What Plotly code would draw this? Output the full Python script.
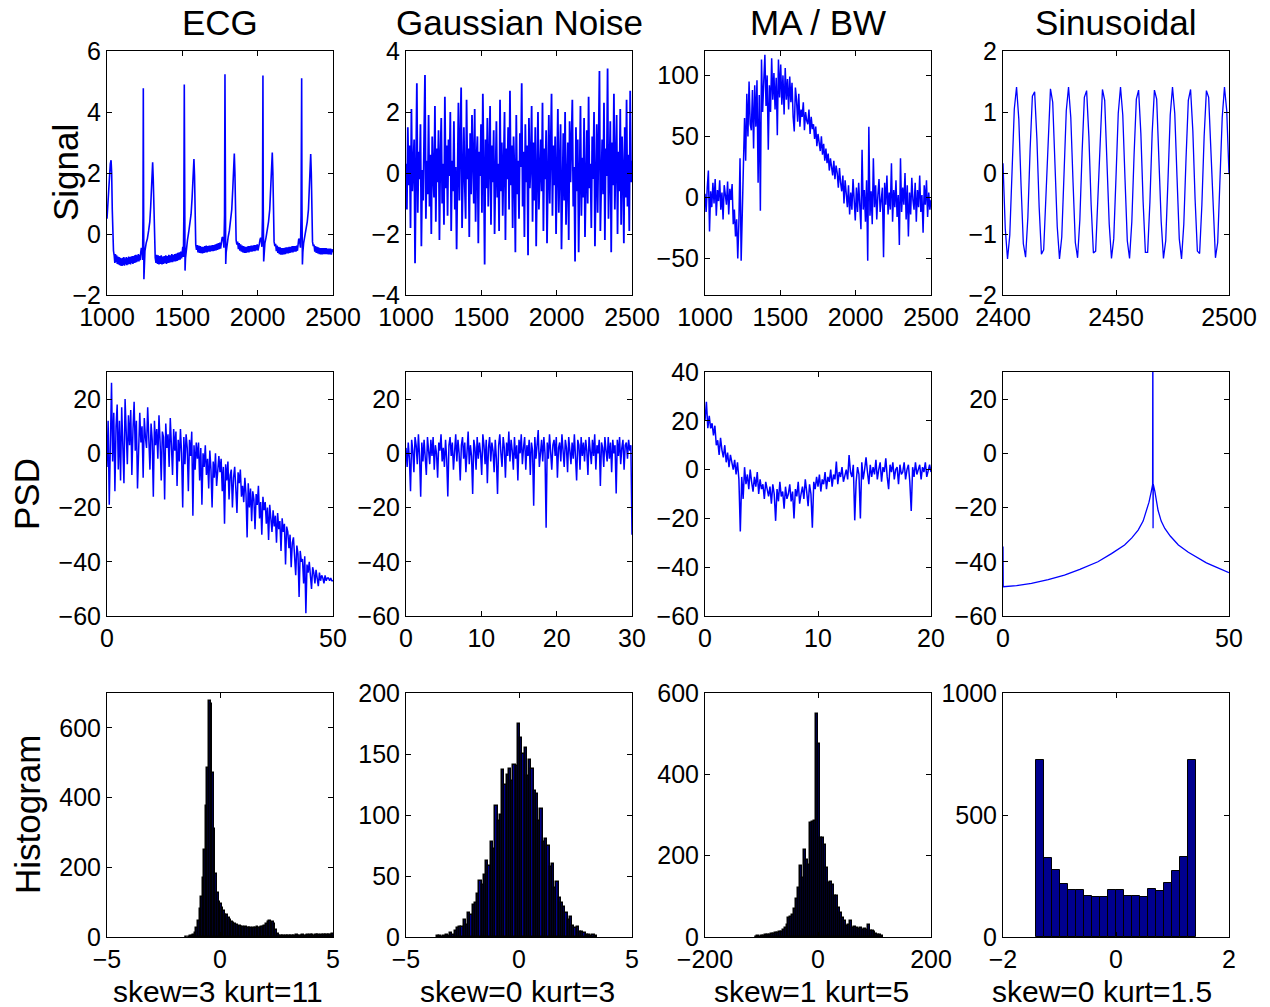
import plotly.graph_objects as go
from plotly.subplots import make_subplots

# the page puts the figure 8px in from the top-left corner of the window
OFF = 8
W, H = 1270 - OFF, 1007 - OFF
BLUE = 'rgb(0,0,255)'
NAVY = 'rgb(0,0,143)'
FONT = 'Liberation Sans, Arial, sans-serif'

col_titles = ['ECG', 'Gaussian Noise', 'MA / BW', 'Sinusoidal']
row_titles = ['Signal', 'PSD', 'Histogram']
stat_labels = ['skew=3 kurt=11', 'skew=0 kurt=3', 'skew=1 kurt=5', 'skew=0 kurt=1.5']

# ---------------- row 1: time signals ----------------
# ECG (sample index, value)
ecg_points = [
    (1000, 0.5), (1008, 1.2), (1015, 1.9), (1022, 2.3), (1027, 2.42), (1031, 2.0), (1035, 0.8), (1039, -0.1),
    (1043, -0.55), (1048, -0.72), (1052, -0.95), (1056, -0.66), (1060, -0.92), (1064, -0.7), (1068, -0.98),
    (1072, -0.74), (1076, -1.0), (1080, -0.76), (1084, -1.02), (1088, -0.78), (1092, -1.04), (1096, -0.8),
    (1100, -1.05), (1104, -0.78), (1108, -1.02), (1112, -0.76), (1116, -1.04), (1120, -0.8), (1124, -1.0),
    (1128, -0.76), (1132, -1.02), (1136, -0.78), (1140, -1.0), (1144, -0.74), (1148, -0.98), (1152, -0.76),
    (1156, -1.0), (1160, -0.74), (1164, -0.96), (1168, -0.72), (1172, -0.98), (1176, -0.72), (1180, -0.95),
    (1184, -0.7), (1188, -0.94), (1192, -0.68), (1196, -0.92), (1200, -0.7), (1204, -0.9), (1208, -0.66),
    (1212, -0.9), (1216, -0.68), (1220, -0.86), (1224, -0.6), (1228, -0.45), (1232, -0.5), (1236, -0.85),
    (1239, 0.6), (1241, 4.78), (1243, 1.0), (1245, -1.48), (1248, -1.0), (1252, -0.55), (1260, -0.3),
    (1268, -0.15), (1276, 0.1), (1284, 0.4), (1290, 0.9), (1296, 1.7), (1303, 2.35), (1307, 1.8), (1311, 0.5),
    (1315, -0.5), (1320, -0.78),
    (1325, -0.95), (1330, -0.68), (1335, -0.98), (1340, -0.7), (1345, -1.0), (1350, -0.72), (1355, -0.98),
    (1360, -0.7), (1365, -1.0), (1370, -0.74), (1375, -0.98), (1380, -0.72), (1385, -0.96), (1390, -0.7),
    (1395, -0.98), (1400, -0.72), (1405, -0.95), (1410, -0.68), (1415, -0.94), (1420, -0.7), (1425, -0.92),
    (1430, -0.66), (1435, -0.92), (1440, -0.68), (1445, -0.9), (1450, -0.66), (1455, -0.9), (1460, -0.64),
    (1465, -0.88), (1470, -0.62), (1475, -0.86), (1480, -0.6), (1485, -0.84), (1490, -0.58), (1495, -0.8),
    (1499, -0.45), (1503, -0.42), (1507, -0.75), (1510, 0.6), (1513, 4.9), (1515, 1.0), (1518, -1.2),
    (1521, -0.8), (1526, -0.45), (1534, -0.2), (1542, 0.05), (1550, 0.3), (1558, 0.65), (1565, 1.2),
    (1571, 1.9), (1577, 2.46), (1581, 1.9), (1585, 0.5), (1589, -0.35), (1594, -0.52),
    (1599, -0.36), (1604, -0.6), (1609, -0.38), (1614, -0.62), (1619, -0.4), (1624, -0.63), (1629, -0.42),
    (1634, -0.64), (1639, -0.42), (1644, -0.62), (1649, -0.4), (1654, -0.6), (1659, -0.38), (1664, -0.6),
    (1669, -0.4), (1674, -0.58), (1679, -0.38), (1684, -0.58), (1689, -0.38), (1694, -0.56), (1699, -0.36),
    (1704, -0.56), (1709, -0.36), (1714, -0.55), (1719, -0.34), (1724, -0.54), (1729, -0.32), (1734, -0.52),
    (1739, -0.3), (1744, -0.5), (1749, -0.28), (1754, -0.48), (1759, -0.25), (1764, -0.12), (1768, -0.1),
    (1772, -0.2), (1776, -0.45), (1780, 0.6), (1783, 5.24), (1785, 1.0), (1788, -0.98), (1791, -0.6),
    (1796, -0.3), (1804, -0.1), (1812, 0.1), (1820, 0.4), (1828, 0.8), (1835, 1.5), (1840, 2.2), (1845, 2.64),
    (1849, 2.0), (1853, 0.6), (1857, -0.2), (1862, -0.35),
    (1867, -0.25), (1872, -0.5), (1877, -0.3), (1882, -0.55), (1887, -0.34), (1892, -0.58), (1897, -0.38),
    (1902, -0.6), (1907, -0.4), (1912, -0.62), (1917, -0.42), (1922, -0.62), (1927, -0.42), (1932, -0.6),
    (1937, -0.4), (1942, -0.6), (1947, -0.4), (1952, -0.58), (1957, -0.38), (1962, -0.58), (1967, -0.38),
    (1972, -0.56), (1977, -0.36), (1982, -0.56), (1987, -0.36), (1992, -0.54), (1997, -0.34), (2002, -0.54),
    (2007, -0.34), (2012, -0.3), (2016, -0.18), (2020, -0.12), (2024, -0.22), (2028, -0.42), (2032, 0.6),
    (2035, 5.2), (2037, 1.0), (2040, -0.9), (2043, -0.55), (2048, -0.3), (2056, -0.1), (2064, 0.1),
    (2072, 0.4), (2080, 0.8), (2087, 1.5), (2092, 2.2), (2097, 2.67), (2101, 2.0), (2105, 0.6),
    (2109, -0.25), (2114, -0.4),
    (2119, -0.32), (2124, -0.56), (2129, -0.38), (2134, -0.62), (2139, -0.42), (2144, -0.66), (2149, -0.44),
    (2154, -0.68), (2159, -0.46), (2164, -0.68), (2169, -0.46), (2174, -0.67), (2179, -0.45), (2184, -0.66),
    (2189, -0.44), (2194, -0.64), (2199, -0.44), (2204, -0.64), (2209, -0.42), (2214, -0.62), (2219, -0.42),
    (2224, -0.6), (2229, -0.4), (2234, -0.6), (2239, -0.4), (2244, -0.58), (2249, -0.4), (2254, -0.58),
    (2259, -0.38), (2264, -0.55), (2268, -0.3), (2272, -0.18), (2276, -0.15), (2280, -0.3), (2284, -0.45),
    (2288, 0.6), (2292, 5.11), (2294, 1.0), (2297, -1.0), (2300, -0.6), (2305, -0.3), (2313, -0.1),
    (2321, 0.1), (2329, 0.4), (2337, 0.8), (2343, 1.5), (2348, 2.2), (2352, 2.62), (2356, 2.0), (2360, 0.6),
    (2364, -0.25), (2369, -0.4),
    (2374, -0.35), (2379, -0.58), (2384, -0.4), (2389, -0.62), (2394, -0.42), (2399, -0.64), (2404, -0.44),
    (2409, -0.66), (2414, -0.46), (2419, -0.67), (2424, -0.46), (2429, -0.67), (2434, -0.46), (2439, -0.66),
    (2444, -0.46), (2449, -0.66), (2454, -0.46), (2459, -0.66), (2464, -0.48), (2469, -0.67), (2474, -0.48),
    (2479, -0.67), (2484, -0.48), (2489, -0.68), (2494, -0.5), (2500, -0.6),
]

# gaussian noise, one value every 6 samples from 1000
noise_sig = [
    0.3, -1.2, 1.5, -0.4, 0.9, -1.8, 2.1, -0.6, 0.2, 1.1, -2.96, 0.5, 2.94, -1.3, 0.7, -0.2, 1.6, -2.4, 0.1, -0.9, 1.3, 3.21, -1.5, 0.4, -0.7,
    1.9, -1.1, 0.6, -2.0, 1.2, 0.0, -0.8, 2.2, -1.6, 0.8, -0.3, 1.4, -2.2, 0.5, 1.8, -1.0, 0.3, -1.7, 2.5, -0.5, 0.9, -1.4, 1.1, -0.1, 2.0,
    -1.9, 0.4, -0.6, 1.7, -1.2, 0.2, -2.5, 1.0, 2.3, -0.9, 0.6, 2.8, -1.8, 0.1, 1.5, -0.4, -1.5, 2.4, -0.2, 0.8, -2.1, 1.3, -0.7, 1.9, 0.3,
    -1.0, 2.1, -1.6, 0.5, 1.2, -2.3, 0.7, -0.1, 1.6, -1.3, 2.6, 0.2, -3.0, 1.1, -0.5, 1.8, -1.1, 0.4, 2.2, -1.7, 0.9, -0.3, 1.4, -2.0, 0.6,
    1.7, -0.8, 0.3, -1.9, 2.4, -0.6, 1.0, -1.4, 0.5, 2.0, -2.2, 0.8, -0.2, 1.5, -1.2, 2.7, -0.4, 0.9, -1.8, 1.2, 0.1, -2.6, 1.9, -0.7, 0.4,
    -1.5, 1.3, 0.2, 2.94, -1.1, 0.7, -2.1, 1.6, -0.3, 0.9, -2.7, 1.8, -0.5, 0.3, 2.2, -1.6, 1.0, -0.9, 1.5, -2.4, 0.6, 2.0, -1.2, 0.2, 1.1,
    -0.6, 2.3, -1.9, 0.8, -0.2, 1.4, -2.3, 0.5, 1.9, -1.0, 0.3, 2.6, -1.4, 0.9, -0.4, 1.2, -2.0, 0.7, 2.1, -1.3, 0.0, 1.6, -2.5, 0.6, 1.3,
    -0.9, 2.0, -1.7, 0.4, 1.0, -2.2, 1.7, -0.3, 0.8, 2.4, -1.1, 0.2, -2.9, 1.5, -0.6, 1.1, -2.6, 0.9, 2.2, -1.4, 0.5, -0.8, 1.8, -2.1, 0.7,
    1.4, -1.0, 2.5, -0.5, 0.3, -1.8, 1.2, -0.2, 2.0, -2.4, 0.6, 1.6, -1.3, 0.9, 3.34, -1.9, 0.4, 1.1, -0.7, 2.3, -2.2, 0.8, -0.1, 3.43, -1.5,
    0.5, 1.7, -2.6, 1.0, -0.4, 2.6, -1.2, 0.3, 1.9, -2.0, 0.7, -0.6, 2.1, -1.7, 1.2, 0.1, -2.3, 1.5, -0.8, 2.4, -1.1, 0.6, -1.9, 2.7, -0.3, 0.4,
]

# motion artefact / baseline wander, one value every 7.5 samples from 1000
ma_sig = [
    3, -12, 8, 22, -28, 5, -8, 12, -5, 15, -15, 6, -3, 14, -10, 4, -18, 10, 2, -6, 13, -14, 7, -2, 11,
    -22, -10, -32, -18, -50, -20, 32, -52, -10,
    20, 65, 30, 85, 50, 95, 60,
    55, 88, 40, 92, 58, 96, 12, 84, -11, 113, 70, 95, 117, 75, 100, 39, 92, 70, 114, 80,
    102, 72, 98, 51, 113, 82, 109, 76, 100, 68, 106, 80, 97, 72, 99, 78, 94, 66, 54, 90,
    80, 62, 85, 58, 72, 66, 78, 55, 70, 63, 60, 72, 52, 66, 56, 60, 48, 58, 42, 52,
    45, 38, 50, 35, 44, 30, 40, 28, 36, 22, 32, 25, 18, 30, 15, 26, 20, 8, 24, 12, 5, 18, -5, 14, 2,
    -8, 10, -14, 4, -10, 15, -6, -19, 8, -12, 12, -4, -26, 39, -10, 6, -20, 14, -52, 58,
    -15, 5, -22, 32, -8, 10, -18, 2, 15, -12, -4, 8, -49, 12, -6, 18, -14, 4, -10, 28,
    -20, 6, -8, 14, -16, 2, -39, 32, -12, 8, -6, 20, -18, 10, -32, 4, -14, 16, -2, -10,
    12, -20, 6, -8, 18, -12, 2, -29, 10, -6, 14, -16, 4, -10, -2,
]

# sinusoid, one value per sample from 2400
sine_sig = [
    0.16, -0.91, -1.41, -1.02, 0.02, 1.05, 1.41, 0.88, -0.21, -1.16, -1.38, -0.73, 0.39, 1.26, 1.33, 0.56,
    -0.56, -1.33, -1.26, -0.39, 0.73, 1.38, 1.16, 0.21, -0.88, -1.41, -1.05, -0.02, 1.02, 1.41, 0.91, -0.16,
    -1.14, -1.39, -0.77, 0.34, 1.24, 1.35, 0.60, -0.52, -1.31, -1.28, -0.43, 0.69, 1.37, 1.19, 0.25, -0.84,
    -1.40, -1.08, -0.07, 0.98, 1.41, 0.95, -0.11, -1.11, -1.40, -0.80, 0.30, 1.21, 1.36, 0.65, -0.47, -1.30,
    -1.30, -0.48, 0.65, 1.36, 1.21, 0.30, -0.80, -1.40, -1.11, -0.12, 0.95, 1.41, 0.98, -0.07, -1.08, -1.41,
    -0.84, 0.25, 1.19, 1.37, 0.69, -0.43, -1.28, -1.32, -0.52, 0.60, 1.35, 1.24, 0.35, -0.76, -1.39, -1.14,
    -0.16, 0.91, 1.41, 1.02, -0.02,
]

# ---------------- row 2: power spectra (dB) ----------------
psd_ecg = [
    -5, 12, -19, 8, 26, -3, 15, -14, 10, 18, -6, 12, -10, 17, 2, -11, 20, 5, -4, 14,
    3, 16, -8, 9, 19, 1, 12, -13, 7, 15, 4, 10, -9, 13, 6, 2, 17, 8, -6, 11,
    5, -16, 12, 3, 9, -2, 14, 4, -10, 8, 6, -17, 11, 2, 7, -5, 13, 3, -8, 9,
    1, 8, -12, 5, -3, 9, 0, -20, 6, -4, 7, 2, -14, 5, -1, 8, -23, 3, -6, 4,
    -2, 4, -10, 2, -19, 0, -5, 3, -8, -2, -13, 1, -6, -20, -3, -9, 0, -12, -5, -1,
    -7, -2, -14, -5, -26, -4, -10, -3, -17, -8, -6, -20, -9, -5, -13, -22, -7, -11, -6, -16,
    -12, -18, -9, -15, -31, -11, -20, -13, -25, -14, -17, -28, -15, -19, -12, -24, -18, -30, -16, -21,
    -18, -26, -20, -32, -19, -24, -29, -21, -27, -23, -33, -22, -28, -25, -36, -24, -29, -26, -41, -27,
    -29, -35, -30, -42, -33, -31, -38, -45, -34, -37, -53, -36, -40, -39, -48, -38, -59, -41, -44, -40,
    -45, -50, -42, -44, -48, -43, -46, -49, -44, -47, -45, -46, -48, -45, -47, -46, -46, -47, -46, -47, -47,
]

psd_noise = [
    2, -5, 4, -2, -14, 5, 1, -7, 6, 3, -4, 7, -1, -16, 4, -3, 5, 0, -8, 6,
    2, -4, 5, -1, 6, -6, 3, 0, -9, 4, 1, 7, -3, 2, -5, 5, -2, -15.9, 3, 6,
    -1, 4, -6, 2, 7, -3, 5, 0, -10, 3, 6, -2, 4, -7, 1, 8, -4, 3, -1, -15,
    5, 2, -6, 6, -2, 4, 0, -8, 7, 3, -4, 5, -11, 2, 6, -3, 4, 1, -7, 5,
    -2, -15, 3, 7, 0, -5, 6, 2, -9, 4, -1, 8, -3, 5, 1, -6, 6, -2, 3, -10,
    5, 0, 7, -4, 2, 6, -6, 3, -1, 5, -8, 4, 1, -19.3, 6, -2, 3, 8.6, -5, 2,
    5, -3, 6, 0, -27.4, 4, -2, 7, 1, -6, 3, 5, -1, 6, -9, 2, 4, -3, 7, 0,
    -5, 5, 2, -7, 6, 1, -4, 4, -2, 7, 0, -10, 5, 3, -6, 6, -1, 4, -3, 5,
    1, -8, 6, 2, -4, 5, -1, 7, -6, 3, 0, 5, -12, 4, 2, -5, 6, 1, -3, 6,
    -2, 4, -7, 5, 0, 3, -14.8, 5, -1, 6, -4, 2, 5, -6, 3, 4, -2, 5, 1, 3, -30,
]

psd_ma = [
    20, 27.8, 17, 22, 16.9, 19, 14, 18, 10, 12, 6, 13, 8, 5, 10, 3, 7, 1, 6, 2,
    0, 4, -2, 3, -4, -25.4, -3, -12, 1, -6, -2, -8, 0, -5, -9, -3, -7, -1, -10, -4,
    -8, -6, -12, -5, -9, -11, -7, -14, -6, -10, -21, -8, -13, -5, -11, -9, -16, -7, -12, -10,
    -6, -13, -9, -20, -8, -11, -5, -14, -10, -7, -12, -4, -9, -15, -6, -10, -23.8, -5, -8, -3,
    -7, -2, -9, -4, -6, -1, -8, -3, -5, 0, -7, -2, -4, 3.3, -6, -1, -3, 1, -5, -2,
    0, -4, 6, -1, -3, 2, -20.8, -5, 1, -2, -20, 3, -4, 0, 5, -1, -6, 2, -3, 1,
    -2, 4, -4, 0, 3, -5, 1, -1, 4.6, -3, -8, 2, -1, 3, -4, 0, 1, -6, 2, -2,
    -1, 3, -4, 0, 2, -5, -17, 1, -3, 3, -2, 0, 2, -4, 1, -1, 3, -3, 0, 2, -1,
]

psd_sine_f = [0, 0.05, 3, 6.3, 10, 13.6, 17, 21, 24, 26.9, 28.5, 29.9, 31, 31.7, 32.3, 32.8, 33.1,
              33.15, 33.2, 33.25, 33.6, 34.3, 35, 35.8, 37, 38.8, 41, 43.2, 45, 46.9, 48.5, 50]
psd_sine_db = [-34.4, -49.2, -48.8, -48, -46.6, -44.9, -42.8, -40, -37, -33.8, -31.2, -28.3, -25, -21.5, -18,
               -14.1, -11.5, 60, -27.6, -11.5, -14, -21, -25, -27.7, -30.5, -33.8, -36.5, -38.7, -40.4,
               -41.8, -43, -44]

# ---------------- row 3: histogram counts ----------------
hist_ecg = [
    1, 0, 1, 2, 3, 6, 12, 25, 45, 80, 115, 170, 250, 375, 485, 678, 668, 470, 310, 180,
    125, 100, 95, 82, 75, 62, 64, 55, 48, 42, 40, 38, 35, 30, 33, 28, 30, 26, 28, 25,
    27, 26, 24, 27, 25, 28, 26, 27, 30, 28, 32, 38, 42, 45, 40, 44, 38, 20, 8, 4,
    3, 3, 2, 3, 4, 3, 2, 3, 4, 3, 5, 4, 3, 4, 5, 4, 3, 5, 4, 6,
    5, 4, 5, 6, 5, 4, 6, 5, 7, 6, 5, 7, 6, 8, 6, 5,
]
hist_noise = [
    1, 1, 0, 1, 2, 1, 3, 2, 5, 7, 8, 8, 14, 10, 20, 18, 26, 28, 35, 46,
    43, 51, 62, 58, 78, 72, 107, 95, 100, 137, 125, 133, 138, 128, 141, 140, 175, 163, 150, 155,
    132, 145, 138, 120, 117, 95, 105, 78, 80, 75, 57, 60, 40, 45, 32, 28, 25, 20, 14, 16,
    9, 7, 8, 4, 4, 3, 2, 2, 1, 2, 1,
]
hist_ma = [
    1, 2, 1, 2, 3, 4, 5, 6, 8, 7, 9, 10, 12, 13, 18, 22, 30, 47, 50, 55,
    68, 94, 120, 174, 145, 215, 190, 178, 280, 284, 286, 548, 475, 243, 243, 227, 170, 133, 135, 129,
    100, 100, 71, 60, 47, 39, 26, 30, 39, 21, 24, 22, 20, 21, 18, 20, 16, 29, 15, 14,
    12, 8, 6, 4, 2,
]
hist_sine = [724, 324, 273, 217, 191, 191, 167, 164, 164, 191, 194, 167, 167, 163, 197, 190, 221, 272, 327, 724]

# ---------------- figure ----------------
fig = make_subplots(rows=3, cols=4)


def add_line(r, c, width=1.3, **kw):
    fig.add_trace(go.Scatter(mode='lines', line=dict(color=BLUE, width=width), showlegend=False,
                             hoverinfo='skip', **kw), row=r, col=c)


def add_hist(r, c, x0, dx, counts, edge=1.0):
    fig.add_trace(go.Bar(x0=x0, dx=dx, y=counts, width=dx, showlegend=False, hoverinfo='skip',
                         marker=dict(color=NAVY, line=dict(color='black', width=edge))), row=r, col=c)


add_line(1, 1, x=[p[0] for p in ecg_points], y=[p[1] for p in ecg_points], width=1.6)
add_line(1, 2, y=noise_sig, x0=1000, dx=6, width=1.8)
add_line(1, 3, y=ma_sig, x0=1000, dx=7.5, width=1.5)
add_line(1, 4, y=sine_sig, x0=2400, dx=1)

add_line(2, 1, y=psd_ecg, x0=0, dx=0.25, width=1.5)
add_line(2, 2, y=psd_noise, x0=0, dx=0.15, width=1.5)
add_line(2, 3, y=psd_ma, x0=0, dx=0.125, width=1.5)
add_line(2, 4, x=psd_sine_f, y=psd_sine_db)

# narrow bins: the black bar edges cover almost all of the fill
add_hist(3, 1, -1.5, 0.07, hist_ecg, edge=1.5)
add_hist(3, 2, -3.6, 0.1, hist_noise, edge=1.5)
add_hist(3, 3, -110, 3.5, hist_ma, edge=1.5)
add_hist(3, 4, -1.35, 0.1421, hist_sine)

# axis ranges / ticks per panel
axes = {
    (1, 1): ([1000, 2500], [1000, 1500, 2000, 2500], [-2, 6], [-2, 0, 2, 4, 6]),
    (1, 2): ([1000, 2500], [1000, 1500, 2000, 2500], [-4, 4], [-4, -2, 0, 2, 4]),
    (1, 3): ([1000, 2500], [1000, 1500, 2000, 2500], [-80, 120], [-50, 0, 50, 100]),
    (1, 4): ([2400, 2500], [2400, 2450, 2500], [-2, 2], [-2, -1, 0, 1, 2]),
    (2, 1): ([0, 50], [0, 50], [-60, 30], [-60, -40, -20, 0, 20]),
    (2, 2): ([0, 30], [0, 10, 20, 30], [-60, 30], [-60, -40, -20, 0, 20]),
    (2, 3): ([0, 20], [0, 10, 20], [-60, 40], [-60, -40, -20, 0, 20, 40]),
    (2, 4): ([0, 50], [0, 50], [-60, 30], [-60, -40, -20, 0, 20]),
    (3, 1): ([-5, 5], [-5, 0, 5], [0, 700], [0, 200, 400, 600]),
    (3, 2): ([-5, 5], [-5, 0, 5], [0, 200], [0, 50, 100, 150, 200]),
    (3, 3): ([-200, 200], [-200, 0, 200], [0, 600], [0, 200, 400, 600]),
    (3, 4): ([-2, 2], [-2, 0, 2], [0, 1000], [0, 500, 1000]),
}

# panel positions in window pixels
left_px = [107, 406, 705, 1003]
top_px = [51, 372, 693]
PW, PH = 226, 244
common = dict(showline=True, mirror='ticks', linecolor='black', linewidth=1, ticks='inside',
              ticklen=5, tickcolor='black', showgrid=False, zeroline=False, automargin=False,
              tickfont=dict(family=FONT, size=25, color='black'))


def px(x):
    return (x - OFF) / W


def py(y):
    return 1 - (y - OFF) / H


for (r, c), (xr, xt, yr, yt) in axes.items():
    x0 = px(left_px[c - 1])
    y1 = py(top_px[r - 1])
    fig.update_xaxes(domain=[x0, x0 + PW / W], range=xr, tickvals=xt, ticklabelstandoff=0,
                     row=r, col=c, **common)
    fig.update_yaxes(domain=[y1 - PH / H, y1], range=yr, tickvals=yt, ticklabelstandoff=0,
                     row=r, col=c, **common)

ann = []
for i, t in enumerate(col_titles):
    ann.append(dict(text=t, x=px(left_px[i] + PW / 2), y=py(23), font=dict(size=35)))
for t, xp, yp in zip(row_titles, [66, 26, 27], [173, 494, 815]):
    ann.append(dict(text=t, x=px(xp), y=py(yp), textangle=-90, font=dict(size=35)))
for t, xp in zip(stat_labels, [218, 517, 811, 1102]):
    ann.append(dict(text=t, x=px(xp), y=py(991), font=dict(size=30)))
for a in ann:
    a.update(xref='paper', yref='paper', showarrow=False, xanchor='center', yanchor='middle')
    a['font'].update(family=FONT, color='black')

fig.update_layout(
    width=W, height=H,
    margin=dict(l=0, r=0, t=0, b=0, autoexpand=False),
    plot_bgcolor='white', paper_bgcolor='white',
    showlegend=False,
    bargap=0,
    annotations=ann,
    font=dict(family=FONT, color='black'),
)

fig.write_html("out.html")
